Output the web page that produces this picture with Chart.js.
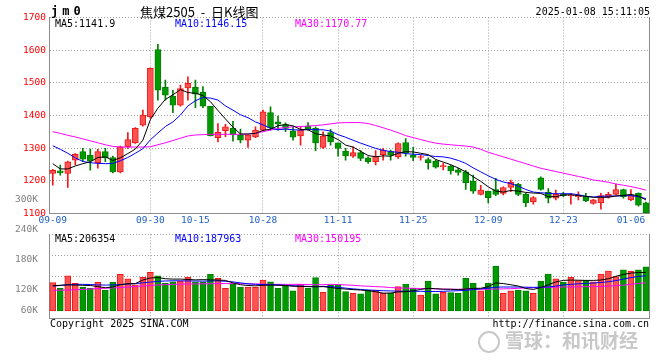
<!DOCTYPE html>
<html>
<head>
<meta charset="utf-8">
<script src="https://cdn.jsdelivr.net/npm/chart.js@4.4.1/dist/chart.umd.min.js"></script>
<style>
    body { margin: 0; background: #fff; }
    #wrap { position: relative; width: 660px; height: 360px; overflow: hidden; font-family: 'DejaVu Sans Mono', monospace; font-size: 10px; color: #000; }
    canvas { position: absolute; left: 0; }
    #price { top: 0; }
    #vol { top: 185px; }
    .t { position: absolute; white-space: pre; line-height: 12px; }
</style>
</head>
<body>
<div id="wrap">
    <canvas id="price" width="660" height="232"></canvas>
    <canvas id="vol" width="660" height="145"></canvas>

    <div class="t" style="left:51px; top:4px; font-weight:bold; font-size:12px; line-height:14px; letter-spacing:4px;">jm0</div>
    <div class="t" style="left:140px; top:4px; font-family:'Noto Sans CJK SC'; font-size:13px; line-height:15px;">焦煤2505  -  日K线图</div>
    <div class="t" style="right:10px; top:6px;">2025-01-08 15:11:05</div>

    <div class="t" style="left:55px; top:18px;">MA5:1141.9</div>
    <div class="t" style="left:175px; top:18px; color:#0000ff;">MA10:1146.15</div>
    <div class="t" style="left:295px; top:18px; color:#ff00ff;">MA30:1170.77</div>

    <div class="t" style="left:55px; top:233px;">MA5:206354</div>
    <div class="t" style="left:175px; top:233px; color:#0000ff;">MA10:187963</div>
    <div class="t" style="left:295px; top:233px; color:#ff00ff;">MA30:150195</div>

    <div class="t" style="left:50px; top:318px;">Copyright 2025 SINA.COM</div>
    <div class="t" style="right:11px; top:318px;">http://finance.sina.com.cn</div>

    <div style="position:absolute; left:478px; top:331px; width:18px; height:18px; border:2px solid #c8c8c8; border-radius:50%;"></div>
    <div class="t" style="left:505px; top:328px; font-family:'Noto Sans CJK SC'; font-weight:bold; font-size:19px; line-height:24px; color:#c8c8c8;">雪球：和讯财经</div>
</div>

<script>
const dates = ['09-09','09-10','09-11','09-12','09-13','09-18','09-19','09-20','09-23','09-24',
    '09-25','09-26','09-27','09-30','10-08','10-09','10-10','10-11','10-14','10-15',
    '10-16','10-17','10-18','10-21','10-22','10-23','10-24','10-25','10-28','10-29',
    '10-30','10-31','11-01','11-04','11-05','11-06','11-07','11-08','11-11','11-12',
    '11-13','11-14','11-15','11-18','11-19','11-20','11-21','11-22','11-25','11-26',
    '11-27','11-28','11-29','12-02','12-03','12-04','12-05','12-06','12-09','12-10',
    '12-11','12-12','12-13','12-16','12-17','12-18','12-19','12-20','12-23','12-24',
    '12-25','12-26','12-27','12-30','12-31','01-02','01-03','01-06','01-07','01-08'];

const opens = [1222,1230,1222,1263,1289,1278,1255,1289,1271,1227,
    1304,1316,1370,1396,1602,1486,1459,1431,1484,1486,
    1471,1428,1332,1353,1360,1340,1324,1334,1355,1409,
    1380,1372,1353,1337,1368,1360,1302,1347,1316,1291,
    1275,1286,1270,1258,1280,1289,1273,1317,1278,1271,
    1265,1260,1243,1245,1233,1227,1199,1158,1168,1173,
    1161,1179,1189,1158,1135,1209,1164,1146,1158,1153,
    1151,1151,1130,1132,1151,1158,1173,1141,1161,1132];
const highs = [1235,1248,1260,1283,1299,1297,1296,1299,1275,1306,
    1347,1363,1416,1546,1618,1508,1477,1493,1518,1508,
    1488,1428,1375,1373,1382,1358,1340,1365,1416,1426,
    1398,1377,1365,1365,1378,1365,1350,1357,1316,1299,
    1304,1292,1273,1292,1299,1294,1316,1329,1302,1278,
    1270,1263,1253,1248,1238,1232,1217,1186,1168,1207,
    1181,1202,1192,1161,1151,1212,1176,1171,1164,1161,
    1166,1161,1143,1161,1164,1189,1174,1173,1163,1134];
const lows = [1186,1217,1179,1248,1258,1232,1238,1258,1224,1224,
    1299,1314,1367,1391,1447,1447,1408,1428,1447,1424,
    1424,1337,1319,1335,1321,1316,1302,1332,1353,1355,
    1355,1350,1324,1309,1355,1292,1299,1309,1275,1263,
    1271,1261,1253,1248,1263,1263,1268,1275,1261,1263,
    1235,1238,1233,1220,1217,1173,1161,1156,1132,1154,
    1156,1166,1154,1120,1128,1171,1132,1141,1151,1128,
    1141,1136,1128,1113,1146,1156,1146,1139,1122,1100];
const closes = [1232,1224,1258,1281,1266,1260,1289,1270,1227,1304,
    1326,1360,1401,1544,1477,1462,1431,1482,1498,1465,
    1428,1337,1348,1365,1340,1324,1340,1355,1411,1362,
    1373,1360,1333,1355,1357,1316,1337,1319,1299,1276,
    1286,1268,1258,1275,1294,1278,1314,1285,1271,1273,
    1255,1241,1245,1230,1225,1194,1168,1171,1148,1158,
    1179,1195,1158,1132,1148,1173,1146,1158,1154,1156,
    1154,1139,1141,1154,1158,1173,1151,1156,1125,1102];

const ma5 = [1252,1236,1236,1245,1252,1258,1271,1273,1262,1270,
    1283,1297,1324,1387,1422,1449,1463,1479,1470,1468,
    1461,1442,1415,1389,1364,1343,1343,1345,1354,1358,
    1368,1372,1368,1357,1356,1344,1340,1337,1326,1309,
    1303,1290,1277,1273,1276,1275,1284,1289,1288,1284,
    1280,1265,1257,1249,1239,1227,1212,1198,1181,1168,
    1165,1170,1168,1164,1162,1161,1151,1151,1156,1157,
    1154,1152,1149,1149,1149,1153,1155,1158,1153,1141];
const ma10 = [1307,1296,1284,1270,1259,1255,1253,1252,1253,1261,
    1271,1284,1298,1325,1346,1366,1380,1401,1429,1445,
    1455,1453,1447,1429,1416,1402,1393,1380,1371,1361,
    1356,1358,1356,1355,1357,1356,1356,1352,1341,1333,
    1324,1315,1307,1299,1293,1289,1287,1283,1281,1280,
    1277,1274,1273,1269,1262,1253,1239,1227,1215,1204,
    1196,1191,1183,1173,1165,1163,1161,1160,1160,1160,
    1157,1152,1150,1152,1153,1153,1154,1154,1151,1145];
const ma30 = [1350,1345,1339,1334,1328,1322,1316,1310,1305,1303,
    1303,1303,1303,1304,1310,1316,1323,1330,1337,1340,
    1341,1342,1342,1342,1342,1342,1343,1345,1350,1355,
    1360,1363,1365,1366,1367,1369,1371,1374,1377,1378,
    1378,1378,1375,1369,1362,1355,1347,1338,1332,1326,
    1320,1315,1312,1310,1308,1306,1303,1296,1287,1280,
    1273,1266,1259,1252,1245,1238,1233,1228,1223,1218,
    1213,1208,1202,1199,1195,1190,1186,1182,1177,1171];

const volumes = [151000,121000,187000,147000,128000,121000,153000,112000,153000,195000,
    171000,139000,179000,206000,187000,147000,156000,160000,179000,156000,
    153000,195000,174000,121000,142000,128000,128000,126000,165000,156000,
    121000,133000,107000,142000,121000,178000,100000,139000,142000,103000,
    94000,91000,112000,112000,94000,94000,130000,144000,121000,85000,
    160000,91000,100000,98000,94000,174000,147000,107000,147000,240000,
    94000,107000,112000,107000,94000,160000,197000,171000,153000,179000,
    162000,162000,156000,197000,213000,183000,219000,213000,219000,235000];
const volMa5 = [135000,137000,139000,138000,137000,136000,130000,124000,128000,140000,
    145000,146000,165000,176000,178000,172000,170000,170000,168000,166000,
    167000,166000,165000,163000,150000,140000,136000,134000,137000,138000,
    137000,136000,132000,131000,130000,129000,130000,125000,120000,117000,
    114000,112000,108000,103000,95000,96000,102000,103000,108000,115000,
    121000,119000,116000,116000,114000,117000,121000,121000,130000,150000,
    146000,140000,133000,120000,115000,125000,140000,155000,163000,165000,
    164000,163000,163000,165000,172000,185000,195000,202000,205000,206000];
const volMa10 = [133000,136000,140000,142000,142000,141000,139000,138000,139000,141000,
    144000,146000,150000,154000,158000,160000,161000,161000,160000,160000,
    159000,160000,161000,158000,155000,150000,145000,142000,141000,140000,
    139000,137000,135000,133000,131000,130000,131000,130000,126000,122000,
    118000,115000,112000,110000,108000,107000,106000,105000,105000,105000,
    104000,104000,105000,107000,108000,110000,114000,118000,122000,127000,
    128000,128000,128000,127000,126000,127000,128000,133000,139000,142000,
    145000,147000,149000,152000,156000,162000,170000,178000,184000,188000];
const volMa30 = [110000,111000,112000,113000,115000,117000,120000,121000,123000,125000,
    128000,131000,133000,136000,139000,140000,142000,143000,144000,144000,
    145000,145000,146000,146000,146000,146000,145000,144000,143000,142000,
    142000,142000,142000,142000,141000,140000,140000,142000,141000,139000,
    137000,134000,132000,130000,128000,125000,123000,122000,121000,120000,
    119000,118000,117000,116000,116000,116000,116000,116000,116000,117000,
    118000,119000,121000,123000,124000,125000,126000,127000,128000,128000,
    129000,130000,130000,131000,133000,135000,138000,142000,147000,150000];

const tickDates = ['09-09','09-30','10-15','10-28','11-11','11-25','12-09','12-23','01-06'];
const gridDates = ['09-30','10-28','11-11','11-25','12-09','12-23'];
const volTickValues = [300000, 240000, 180000, 120000, 60000];
const volTickLabels = ['300K', '240K', '180K', '120K', '60K'];

const upFill = '#ff5252';
const upLine = '#f01818';
const downFill = '#009900';
const downLine = '#008000';
const gridGray = '#a0a0a0';
const axisGray = '#8c8c8c';
const clear = 'rgba(0,0,0,0)';
const monoFont = { family: 'DejaVu Sans Mono', size: 9.5 };

const isUp = closes.map((c, i) => c >= opens[i]);
const fillColors = isUp.map(u => u ? upFill : downFill);
const lineColors = isUp.map(u => u ? upLine : downLine);

function maLine(data, color) {
    return {
        type: 'line',
        data: data,
        borderColor: color,
        borderWidth: 1,
        pointRadius: 0,
        tension: 0,
        fill: false
    };
}

function dateGrid(ctx) {
    return gridDates.includes(dates[ctx.index]) ? gridGray : clear;
}

// right edge of the plot
const rightBorder = {
    position: 'right',
    ticks: { display: false },
    grid: { display: false },
    border: { color: axisGray },
    afterFit: (s) => { s.width = 0; }
};

new Chart(document.getElementById('price'), {
    type: 'bar',
    data: {
        labels: dates,
        datasets: [
            maLine(ma5, '#000000'),
            maLine(ma10, '#0000ff'),
            maLine(ma30, '#ff00ff'),
            {
                data: dates.map((d, i) => [opens[i], closes[i]]),
                backgroundColor: fillColors,
                borderColor: lineColors,
                borderWidth: 1,
                borderSkipped: false,
                barThickness: 6,
                minBarLength: 1,
                grouped: false
            },
            {
                data: dates.map((d, i) => [lows[i], highs[i]]),
                backgroundColor: lineColors,
                borderWidth: 0,
                barThickness: 1,
                grouped: false
            }
        ]
    },
    options: {
        responsive: false,
        animation: false,
        events: [],
        layout: { padding: { top: 17.5, right: 10.3, bottom: 0, left: 0 } },
        plugins: { legend: { display: false }, tooltip: { enabled: false } },
        scales: {
            x: {
                offset: true,
                ticks: {
                    autoSkip: false,
                    maxRotation: 0,
                    minRotation: 0,
                    padding: 2,
                    color: '#1f5fc8',
                    font: monoFont,
                    callback: (v, i) => tickDates.includes(dates[i]) ? dates[i] : ''
                },
                grid: { color: dateGrid, offset: false, drawTicks: false },
                border: { color: axisGray, dash: [1, 2] },
                afterFit: (s) => { s.height = 18.7; }
            },
            y: {
                position: 'left',
                min: 1100,
                max: 1700,
                ticks: { stepSize: 100, color: '#ff0000', font: monoFont, padding: 3, callback: (v) => String(v) },
                grid: { color: gridGray, drawTicks: false },
                border: { color: axisGray, dash: [1, 2] },
                afterFit: (s) => { s.width = 49; }
            },
            yr: rightBorder
        }
    }
});

new Chart(document.getElementById('vol'), {
    type: 'bar',
    data: {
        labels: dates,
        datasets: [
            maLine(volMa5, '#000000'),
            maLine(volMa10, '#0000ff'),
            maLine(volMa30, '#ff00ff'),
            {
                data: volumes,
                backgroundColor: fillColors,
                borderColor: lineColors,
                borderWidth: 1,
                borderSkipped: false,
                barThickness: 6
            }
        ]
    },
    options: {
        responsive: false,
        animation: false,
        events: [],
        layout: { padding: { top: 49.3, right: 10.3, bottom: 11.7, left: 0 } },
        plugins: { legend: { display: false }, tooltip: { enabled: false } },
        scales: {
            x: {
                offset: true,
                ticks: { display: false },
                grid: { color: dateGrid, offset: false, drawTicks: false },
                border: { color: axisGray, dash: [1, 2] },
                afterFit: (s) => { s.height = 0; }
            },
            y: {
                position: 'left',
                min: -38900,
                max: 408800,
                ticks: { display: false, stepSize: 100000 },
                grid: {
                    drawTicks: false,
                    color: (c) => (c.tick.value === 0 || c.tick.value === 400000) ? clear : gridGray
                },
                border: { display: false, dash: [1, 2] },
                afterFit: (s) => { s.width = 0; }
            },
            yl: {
                position: 'left',
                min: 63400,
                max: 231400,
                afterBuildTicks: (s) => {
                    s.ticks = volTickValues.map(v => ({ value: Math.max(v, s.min + 15000) }));
                },
                ticks: {
                    autoSkip: false,
                    color: '#808080',
                    font: monoFont,
                    padding: 3,
                    callback: (v, i) => volTickLabels[i]
                },
                grid: { display: false },
                border: { color: axisGray },
                afterFit: (s) => { s.width = 49; }
            },
            yr: rightBorder
        }
    }
});
</script>
</body>
</html>
